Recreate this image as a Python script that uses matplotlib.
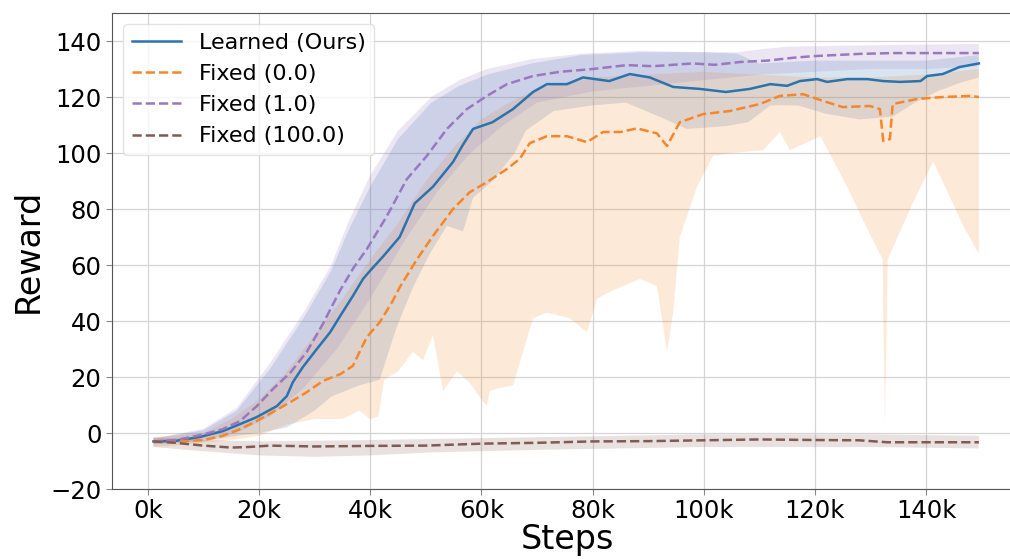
#!/usr/bin/env python3
import numpy as np
import matplotlib
matplotlib.use("Agg")
import matplotlib.pyplot as plt
from matplotlib.ticker import FuncFormatter

# steps are in thousands
learned_x = [1, 5, 9.4, 13.5, 16.6, 19.6, 23.2, 25, 26.1, 27.9, 30.4, 32.8, 34.6, 36.9, 38.7, 40,
             42.3, 45.3, 48, 51.3, 54.9, 56.7, 58.5, 62, 65.7, 69.3, 71.8, 75.4, 78.3, 83, 86.7,
             90.3, 94.5, 99.3, 104, 108.3, 112, 115, 117.3, 120.4, 122.2, 125.8, 129.4, 132.3,
             135.3, 139, 140.2, 143, 146, 149.5]
learned_y = [-3, -2.8, -1.4, 0.7, 3.2, 5.7, 9.6, 13.2, 18.2, 23.6, 30, 36, 41.8, 49, 55, 58,
             63, 70, 82, 88, 96.8, 103, 108.6, 111, 115.7, 121.8, 124.6, 124.6, 127, 125.7, 128.2,
             127, 123.6, 122.9, 121.8, 122.9, 124.6, 124, 125.7, 126.4, 125.4, 126.4, 126.4, 125.7,
             125.4, 125.7, 127.5, 128.2, 130.7, 132]
learned_hi_x = [1, 10, 16, 22, 28, 33, 36, 40, 45, 51, 56, 61, 69, 78, 89, 100, 106, 110, 120,
                130, 140, 149.5]
learned_hi = [-2, 1, 8, 23, 41, 58, 72, 88, 105, 118, 124, 128, 132, 135, 136, 136, 135.5, 132,
              133, 133, 133, 135]
learned_lo_x = [1, 10, 16, 20, 25, 30, 33, 38, 41.7, 44.8, 47.7, 50.7, 53.8, 56.7, 58.5, 62, 66,
                68, 73, 80, 86, 92, 97, 104, 108, 112, 117, 122, 128, 134, 138, 142, 146, 149.5]
learned_lo = [-4, -3, -1, 0, 2, 8, 13, 17, 19, 38, 52, 64, 74, 72, 84, 90, 100, 108, 115, 117,
              118, 113, 108.6, 109.6, 111, 117, 117, 114, 112, 113, 118, 122, 125, 127]

fixed0_x = [1, 5, 10, 13.5, 16.6, 19.6, 22.5, 25.6, 28.6, 31.5, 34.6, 36.9, 38.1, 39.4, 41.7, 44,
            45.3, 48.4, 51.3, 54.9, 57.9, 61, 64.6, 66.9, 68.7, 71.8, 75.4, 79, 81.9, 85, 88, 91.6,
            93.4, 95.7, 99.9, 104.7, 110.1, 113.7, 117.9, 121.5, 125, 129.9, 131.7, 132.3, 133.5,
            134, 138.4, 143, 148, 149.5]
fixed0_y = [-3, -3, -2.5, -1, 1.4, 4.3, 7.5, 11, 14.6, 18.6, 21, 24, 29, 34.3, 39.5, 47,
            52, 62, 70.4, 80, 86, 89.6, 94.3, 97.9, 103.5, 106, 106, 103.9, 107.5, 107.5, 108.8, 107,
            102.5, 111, 113.9, 115, 117.5, 120.4, 121, 118.6, 116.4, 116.8, 115.7, 104.3, 105,
            117.5, 119.3, 120, 120.4, 120]
fixed0_hi_x = [1, 10, 15, 20, 25, 30, 35, 40, 45, 50, 55, 60, 65, 70, 80, 90, 100, 110, 120, 130,
               140, 149.5]
fixed0_hi = [-1.5, 0, 5, 12, 22, 35, 48, 62, 75, 90, 102, 112, 118, 123, 127, 128, 129, 128, 127,
             127, 128, 130]
fixed0_lo_x = [1, 5, 10, 15, 20, 25, 30, 35, 38, 40, 41.5, 42.5, 45, 47.7, 49.5, 51.3, 53.1, 55.6,
               57.9, 60, 61, 61.5, 63, 65.7, 67.5, 69.3, 71.8, 75.9, 79, 80.8, 83.7, 88.5, 91.6,
               93.4, 94.5, 95.7, 98.8, 101.7, 105, 110.7, 113.7, 115.5, 121, 125.8, 129.4, 132.2,
               132.6, 133.1, 137.7, 141.3, 146.7, 149.5]
fixed0_lo = [-5, -4.5, -3.5, -2.5, -1, 3, 5, 5, 8, 5, 6, 19, 22, 29, 26, 35, 15, 22,
             18, 12, 9.6, 15, 16, 17, 29, 41, 43, 41, 36, 48, 51, 55, 52.5,
             29, 43, 70, 88, 99, 100, 101, 107.5, 101, 106, 88, 73, 62,
             3, 62, 82.5, 97, 74, 64]

fixed1_x = [1, 5, 7.6, 10, 13.5, 16.6, 19.6, 22.5, 25.6, 28.6, 31.5, 34.6, 37, 39.4, 43, 46.6,
            50.2, 53.8, 57.4, 61, 64.6, 69.3, 74.1, 80, 86.2, 90.9, 98, 102, 106.5, 111.4, 116,
            119.7, 128, 134, 140, 149.5]
fixed1_y = [-3, -2.5, -1.5, -0.5, 1.4, 4.3, 9.6, 15.7, 21.5, 29, 39, 51, 59, 65.7, 77.5, 90.7,
            99, 108.6, 115.7, 120.4, 124.6, 127.5, 129, 130, 131.4, 131, 132, 131.5, 132.5, 133, 134,
            134.6, 135.4, 135.7, 135.7, 135.7]
fixed1_hi_x = [1, 10, 16, 22, 28, 33, 36, 40, 45, 51, 56, 61, 69, 78, 89, 100, 106, 110, 115,
               130, 149.5]
fixed1_hi = [-2, 1.5, 9, 25, 43, 60, 75, 92, 108, 120, 126, 130, 133.5, 135.5, 136.5, 136, 136,
             137, 138, 138.5, 139]
fixed1_lo_x = [1, 10, 16, 22, 28, 34, 40, 46, 52, 58, 64, 70, 80, 90, 100, 110, 120, 130, 140,
               149.5]
fixed1_lo = [-4, -2.5, 0, 6, 16, 30, 48, 68, 86, 100, 110, 118, 122, 124, 126, 128, 129, 130,
             130, 131]

fixed100_x = [1, 5, 10, 15, 18, 22, 30, 40, 50, 60, 70, 80, 90, 100, 110, 120, 128, 133, 140, 149.5]
fixed100_y = [-3, -3.5, -4.5, -5.2, -5, -4.5, -4.8, -4.6, -4.5, -3.8, -3.5, -3, -2.9, -2.6, -2.3,
              -2.5, -2.6, -3.3, -3.3, -3.3]
fixed100_hi_x = [1, 10, 20, 40, 70, 100, 130, 149.5]
fixed100_hi = [-1.5, -2.5, -3, -2.5, -1.5, -0.5, -0.5, -1]
fixed100_lo_x = [1, 10, 20, 30, 40, 50, 70, 100, 130, 149.5]
fixed100_lo = [-5, -6.5, -8, -8.5, -8, -7, -6, -5, -5, -5.5]

SERIES = [
    ("Learned (Ours)", "#2a73ad", "-", learned_x, learned_y, learned_hi_x, learned_hi, learned_lo_x, learned_lo),
    ("Fixed (0.0)", "#f5862a", "--", fixed0_x, fixed0_y, fixed0_hi_x, fixed0_hi, fixed0_lo_x, fixed0_lo),
    ("Fixed (1.0)", "#9a78c0", "--", fixed1_x, fixed1_y, fixed1_hi_x, fixed1_hi, fixed1_lo_x, fixed1_lo),
    ("Fixed (100.0)", "#835a52", "--", fixed100_x, fixed100_y, fixed100_hi_x, fixed100_hi, fixed100_lo_x, fixed100_lo),
]


def main() -> None:
    fig = plt.figure(figsize=(10.1, 5.59), dpi=100)
    ax = fig.add_axes([0.1109, 0.1252, 0.902, 0.8515])

    for label, color, ls, x, y, hx, hi, lx, lo in SERIES:
        # band as a polygon: upper edge forward, lower edge back
        px = np.concatenate([hx, lx[::-1]])
        py = np.concatenate([hi, lo[::-1]])
        ax.fill(px, py, color=color, alpha=0.18, linewidth=0)
    for label, color, ls, x, y, *_ in SERIES:
        ax.plot(x, y, ls, color=color, lw=1.8, label=label)

    ax.set_xlim(-6.45, 157.45)
    ax.set_ylim(-20, 150)
    ax.set_xticks(np.arange(0, 141, 20))
    ax.set_yticks(np.arange(-20, 141, 20))
    ax.xaxis.set_major_formatter(FuncFormatter(lambda v, _: f"{v:.0f}k"))
    ax.tick_params(labelsize=17.5, length=4, color="#888888")
    ax.grid(True, color="#d5d5d5", lw=0.9)
    ax.set_axisbelow(True)
    for sp in ax.spines.values():
        sp.set_color("#555555")

    ax.set_xlabel("Steps", fontsize=24, labelpad=0)
    ax.set_ylabel("Reward", fontsize=24)
    ax.legend(loc="upper left", fontsize=16, framealpha=0.8, edgecolor="#dddddd",
              handlelength=2.2)

    fig.savefig("out.png", dpi=100)
    plt.close(fig)


if __name__ == "__main__":
    main()
